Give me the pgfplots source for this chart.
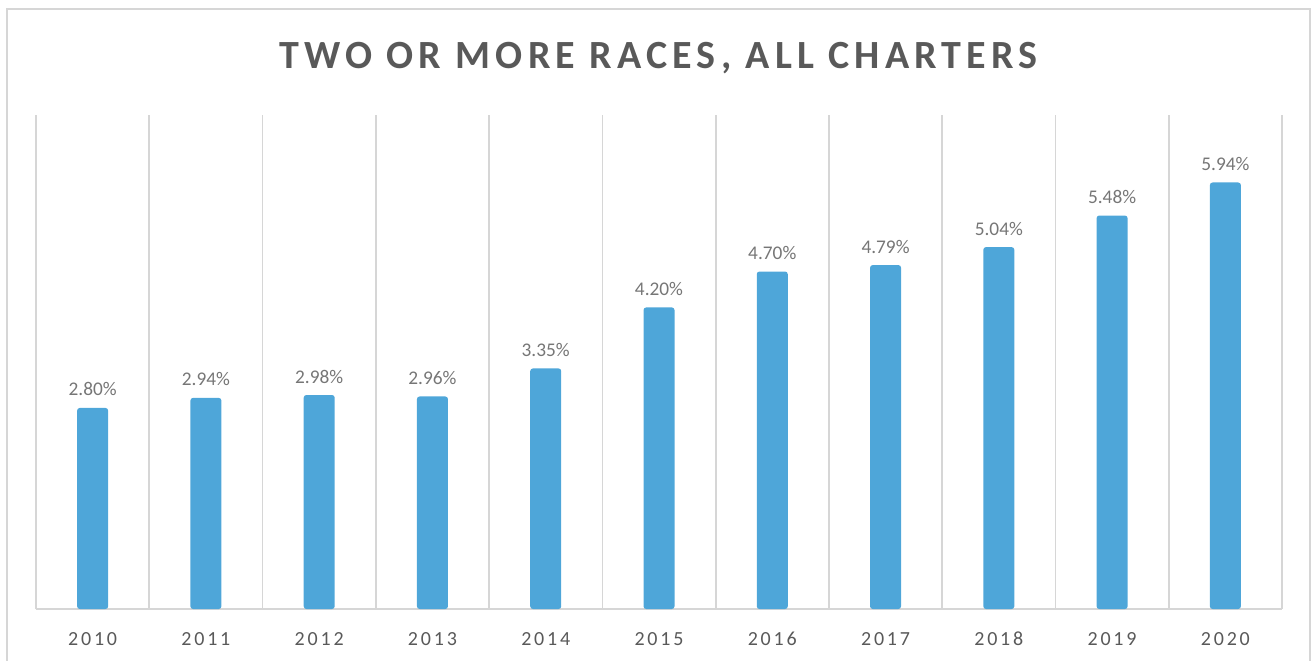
\documentclass[border=0pt]{standalone}
\usepackage{pgfplots}
\pgfplotsset{compat=1.18}
\usepackage{fontspec}
\setmainfont{Carlito}
\definecolor{barblue}{RGB}{78,166,217}
\definecolor{titlegray}{RGB}{89,89,89}
\definecolor{labelgray}{RGB}{118,118,118}
\definecolor{gridgray}{RGB}{214,214,214}
\begin{document}
\begin{tikzpicture}
\useasboundingbox (0,0) rectangle (984pt,495pt);
\draw[gridgray, line width=1.2pt] (5.25pt,-5pt) -- (5.25pt,488.25pt) -- (982.5pt,488.25pt) -- (982.5pt,-5pt);
\node[anchor=base, text=titlegray, font={\fontsize{30}{36}\selectfont\bfseries\addfontfeature{LetterSpace=13}}] at (494pt,443.25pt) {TWO OR MORE RACES, ALL CHARTERS};
\begin{axis}[
  at={(27pt,38.25pt)}, anchor=south west,
  scale only axis, width=934.5pt, height=370.5pt,
  xmin=-0.5, xmax=10.5, ymin=0, ymax=6.88,
  axis x line=bottom, axis y line=none,
  x axis line style={-, gridgray, line width=1.3pt},
  xtick={0,...,10},
  xticklabels={2010,2011,2012,2013,2014,2015,2016,2017,2018,2019,2020},
  major tick length=0pt, minor tick length=0pt,
  minor xtick={-0.5,0.5,...,10.5},
  xminorgrids, minor grid style={gridgray, line width=1.3pt},
  xticklabel style={anchor=base, yshift=-27pt, text=titlegray, font={\fontsize{15}{18}\selectfont\addfontfeature{LetterSpace=14}}},
  ybar, bar width=23.25pt,
  /pgf/number format/assume math mode=true,
  nodes near coords={\pgfmathprintnumber[fixed, fixed zerofill, precision=2, assume math mode=true]{\pgfplotspointmeta}\%},
  nodes near coords style={anchor=base, yshift=9pt, text=labelgray, font={\fontsize{14.5}{17}\selectfont}},
  clip=false,
]
\addplot[fill=barblue, draw=none, rounded corners=2pt] coordinates {
(0,2.80) (1,2.94) (2,2.98) (3,2.96) (4,3.35) (5,4.20) (6,4.70) (7,4.79) (8,5.04) (9,5.48) (10,5.94)
};
\end{axis}
\end{tikzpicture}
\end{document}
